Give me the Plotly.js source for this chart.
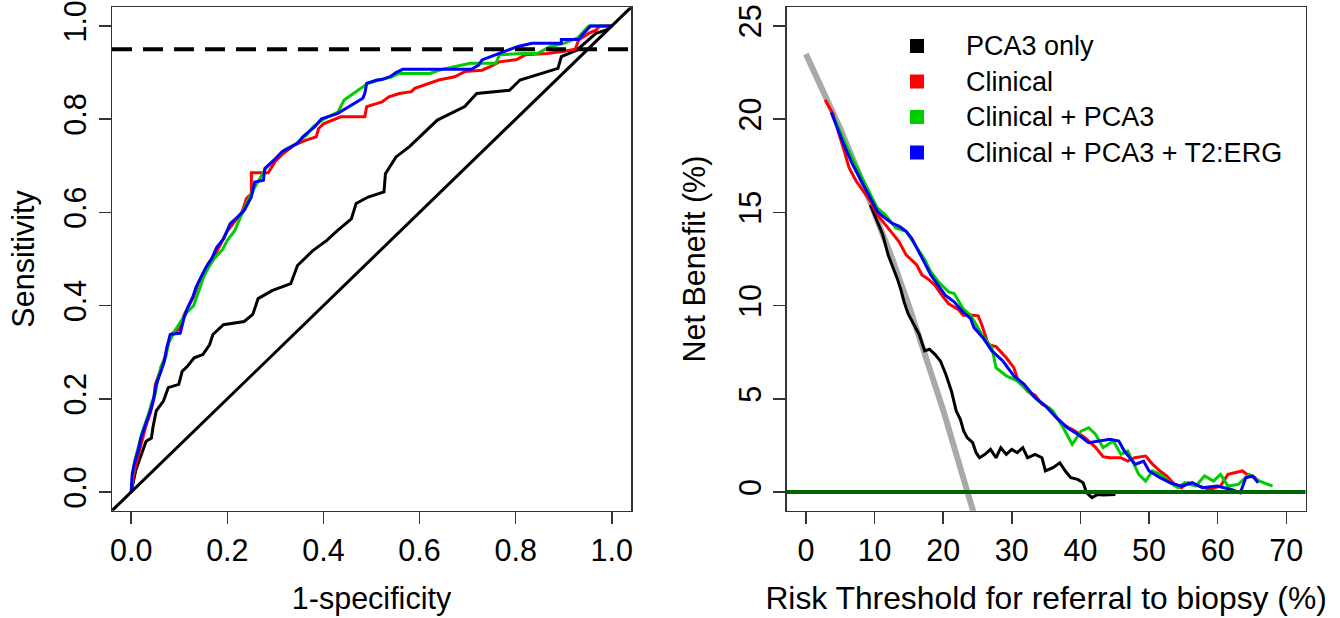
<!DOCTYPE html>
<html><head><meta charset="utf-8">
<script src="https://cdn.plot.ly/plotly-3.0.1.min.js"></script>
<style>html,body{margin:0;padding:0;background:#fff;}#chart{width:1340px;height:618px;}</style>
</head><body><div id="chart"></div>
<script>
// ---------- ROC data (1-specificity, sensitivity) ----------
var rocFprPCA3 = [0,0.009,0.016,0.031,0.042,0.045,0.052,0.067,0.077,0.099,0.106,0.117,0.131,0.149,0.163,0.17,0.192,0.235,0.253,0.264,0.293,0.332,0.346,0.378,0.407,0.429,0.458,0.468,0.493,0.526,0.529,0.551,0.579,0.6,0.637,0.694,0.719,0.787,0.809,0.866,0.888,0.895,0.927,0.967,0.988,1];
var rocSensPCA3 = [0,0.045,0.066,0.109,0.116,0.138,0.174,0.195,0.224,0.231,0.259,0.27,0.288,0.295,0.316,0.338,0.359,0.366,0.381,0.415,0.432,0.447,0.486,0.518,0.54,0.561,0.586,0.619,0.633,0.644,0.683,0.719,0.741,0.762,0.798,0.827,0.855,0.862,0.884,0.902,0.909,0.934,0.948,0.984,0.991,1];

var rocFprClin = [0,0.004,0.01,0.018,0.025,0.03,0.04,0.047,0.05,0.06,0.07,0.077,0.085,0.1,0.11,0.12,0.13,0.14,0.15,0.16,0.175,0.19,0.2,0.215,0.23,0.24,0.25,0.25,0.285,0.3,0.315,0.34,0.364,0.385,0.39,0.4,0.436,0.486,0.49,0.522,0.536,0.558,0.583,0.59,0.622,0.64,0.673,0.694,0.73,0.748,0.766,0.802,0.82,0.866,0.898,0.924,0.931,0.952,0.967,0.975,1];
var rocSensClin = [0,0.03,0.06,0.09,0.12,0.14,0.17,0.2,0.23,0.26,0.29,0.32,0.34,0.35,0.38,0.40,0.42,0.45,0.47,0.49,0.51,0.54,0.56,0.58,0.6,0.63,0.64,0.685,0.685,0.71,0.725,0.745,0.755,0.762,0.78,0.79,0.805,0.805,0.827,0.837,0.848,0.855,0.859,0.866,0.877,0.884,0.891,0.902,0.905,0.913,0.923,0.928,0.938,0.941,0.945,0.95,0.97,0.984,0.991,1,1];

var rocFprClinPCA3 = [0,0.003,0.008,0.015,0.022,0.03,0.037,0.042,0.05,0.055,0.062,0.072,0.078,0.09,0.1,0.115,0.13,0.14,0.15,0.16,0.172,0.19,0.2,0.215,0.228,0.24,0.255,0.268,0.28,0.3,0.32,0.34,0.364,0.38,0.4,0.43,0.443,0.472,0.493,0.52,0.54,0.558,0.622,0.64,0.705,0.759,0.766,0.816,0.845,0.87,0.902,0.93,0.952,1];
var rocSensClinPCA3 = [0,0.04,0.07,0.1,0.125,0.15,0.17,0.19,0.21,0.24,0.27,0.29,0.32,0.345,0.36,0.385,0.40,0.43,0.46,0.48,0.50,0.52,0.54,0.56,0.59,0.62,0.65,0.675,0.695,0.715,0.735,0.745,0.765,0.785,0.80,0.815,0.841,0.862,0.877,0.885,0.89,0.898,0.898,0.905,0.92,0.92,0.938,0.941,0.941,0.955,0.963,0.975,1,1];

var rocFprFull = [0,0.002,0.006,0.016,0.02,0.027,0.034,0.042,0.047,0.052,0.062,0.069,0.074,0.081,0.102,0.11,0.118,0.128,0.135,0.145,0.156,0.167,0.178,0.192,0.206,0.221,0.235,0.25,0.257,0.275,0.278,0.3,0.314,0.346,0.357,0.382,0.396,0.429,0.447,0.465,0.482,0.486,0.49,0.511,0.522,0.54,0.551,0.565,0.708,0.723,0.73,0.748,0.766,0.784,0.805,0.834,0.895,0.895,0.931,0.938,0.945,0.956,1];
var rocSensFull = [0,0.038,0.059,0.095,0.116,0.138,0.159,0.181,0.202,0.231,0.259,0.281,0.309,0.338,0.341,0.374,0.397,0.418,0.44,0.461,0.483,0.50,0.525,0.543,0.576,0.59,0.604,0.633,0.665,0.669,0.694,0.715,0.73,0.748,0.762,0.784,0.801,0.812,0.823,0.834,0.845,0.855,0.877,0.884,0.885,0.892,0.90,0.907,0.907,0.916,0.927,0.934,0.941,0.948,0.956,0.963,0.963,0.971,0.971,0.98,0.988,1,1];

var rocTicks = [0,0.2,0.4,0.6,0.8,1.0];
var rocTickText = ['0.0','0.2','0.4','0.6','0.8','1.0'];
var sensitivityTarget = 0.95;

// ---------- Decision curve data (threshold %, net benefit %) ----------
var nbThrAll = [0,2.5,5,7.5,10,12.5,15,17.5,20,22.5,24.6];
var nbAll    = [23.5,21.5,19.5,17.3,15.0,12.6,10.0,7.3,4.4,1.3,-1.3];

var nbThrPCA3 = [9.4,10.4,11.2,12.0,12.8,13.3,13.8,14.3,14.9,15.7,16.5,17.3,18.0,18.8,19.6,20.4,21.2,21.9,22.5,23.0,23.5,24.3,24.8,25.3,26.1,26.9,27.7,28.4,29.2,30.0,30.8,31.6,32.3,33.4,34.4,34.9,36.0,37.0,37.8,38.6,39.6,40.4,40.9,41.7,42.5,43.3,45.1];
var nbPCA3    = [15.4,14.5,13.8,12.7,12.0,11.46,10.9,10.2,9.55,9.0,8.46,7.57,7.66,7.39,7.03,6.31,5.42,4.35,3.9,3.27,2.92,2.65,2.11,1.84,2.02,2.29,1.84,2.38,2.02,2.29,2.11,2.38,1.84,2.02,1.84,1.13,1.31,1.57,1.13,0.77,0.68,0.5,-0.04,-0.3,-0.13,-0.16,-0.13];

var nbThrClin = [2.8,3.95,5.66,6.29,7.33,8.37,9.4,10.4,12.0,13.56,14.6,16.16,16.9,17.7,18.8,19.8,20.8,22.2,22.9,24.0,25.1,25.6,26.6,27.7,29.2,30.3,30.8,32.3,33.4,34.4,35.5,36.5,37.5,39.1,40.7,42.2,43.3,44.3,45.9,46.9,47.9,49.5,50.5,51.6,52.6,53.7,54.7,55.7,57.3,58.9,60.4,61.5,63.6,64.6,65.6];
var nbClin    = [21.04,20.27,18.2,17.4,16.67,16.13,15.6,14.88,14.16,13.44,12.72,12.18,11.64,11.46,11.1,10.56,10.1,9.8,9.48,9.5,9.45,9.0,7.9,7.8,7.2,6.67,6.1,5.4,5.2,4.7,4.5,4.0,3.6,3.3,2.9,2.4,1.9,1.84,1.84,1.66,1.84,1.93,1.5,1.13,0.86,0.41,0.23,0.5,0.32,0.14,0.32,0.95,1.13,0.86,0.77];

var nbThrClinPCA3 = [4.2,5.8,7.3,8.9,10.4,11.5,13.1,14.6,15.6,17.2,18.2,19.3,20.8,21.6,22.9,24.0,24.5,25.6,27.1,27.7,29.2,30.8,32.3,33.9,36.0,37.5,38.8,40.1,41.2,42.2,43.3,44.8,45.9,46.9,48.5,49.5,50.5,51.6,53.1,54.2,55.2,56.8,58.1,59.4,60.4,61.5,63.0,64.6,66.1,68.0];
var nbClinPCA3    = [20.0,18.65,17.5,16.3,15.24,14.9,14.16,13.98,13.44,12.54,11.82,11.28,10.74,10.65,9.84,9.48,9.18,8.46,7.75,6.67,6.23,5.96,5.42,4.88,4.35,3.45,2.56,3.27,3.45,3.1,2.38,2.74,2.02,2.2,0.95,0.59,1.13,0.95,0.5,0.23,0.5,0.32,0.86,0.59,0.95,0.32,0.41,0.95,0.59,0.32];

var nbThrFull = [3.7,4.5,5.5,6.8,8.1,9.4,10.4,11.2,12.5,13.6,14.6,15.4,16.2,17.2,18.2,19.3,20.3,21.6,22.9,24.0,24.5,25.8,27.1,28.7,30.3,31.8,33.4,34.9,36.5,38.1,39.6,41.2,42.7,44.3,45.6,46.4,48.0,49.2,50.0,51.6,53.1,54.7,56.3,57.8,59.9,62.0,63.3,64.1,65.1,65.9];
var nbFull    = [20.36,19.55,18.65,17.57,16.67,15.77,15.06,14.79,14.43,14.25,13.98,13.62,13.08,12.36,11.64,11.1,10.56,10.2,9.66,9.3,8.82,8.28,7.57,7.03,6.23,5.78,5.06,4.62,3.99,3.45,3.1,2.65,2.74,2.83,2.74,2.2,1.48,1.66,1.13,0.77,0.5,0.32,0.5,0.23,0.32,0.14,-0.04,0.77,0.86,0.5];

var nbTicksX = [0,10,20,30,40,50,60,70];
var nbTicksY = [0,5,10,15,20,25];

var legendLabels = ['PCA3 only','Clinical','Clinical + PCA3','Clinical + PCA3 + T2:ERG'];
var seriesColors = ['#000000','#FF0000','#00CD00','#0000FF'];

// ---------- traces ----------
function rocTrace(x,y,c,n){return {x:x,y:y,type:'scatter',mode:'lines',name:n,line:{color:c,width:3},xaxis:'x',yaxis:'y',showlegend:false,hoverinfo:'x+y'};}
function nbTrace(x,y,c,n,w){return {x:x,y:y,type:'scatter',mode:'lines',name:n,line:{color:c,width:w||3},xaxis:'x2',yaxis:'y2',showlegend:false,hoverinfo:'x+y'};}

var data = [
  rocTrace(rocFprPCA3,rocSensPCA3,seriesColors[0],legendLabels[0]),
  rocTrace(rocFprClin,rocSensClin,seriesColors[1],legendLabels[1]),
  rocTrace(rocFprClinPCA3,rocSensClinPCA3,seriesColors[2],legendLabels[2]),
  rocTrace(rocFprFull,rocSensFull,seriesColors[3],legendLabels[3]),
  nbTrace(nbThrAll,nbAll,'#A9A9A9','Treat all',6),
  nbTrace(nbThrPCA3,nbPCA3,seriesColors[0],legendLabels[0]),
  nbTrace(nbThrClin,nbClin,seriesColors[1],legendLabels[1]),
  nbTrace(nbThrClinPCA3,nbClinPCA3,seriesColors[2],legendLabels[2]),
  nbTrace(nbThrFull,nbFull,seriesColors[3],legendLabels[3])
];

var FONT = 'Liberation Sans, Arial, Helvetica, sans-serif';
var W = 1340, H = 618;
var yDom = [(H-510.7)/H, (H-7.3)/H];

function axisBase(extra){
  var a = {showgrid:false, zeroline:false, showline:true, mirror:true, linecolor:'#333', linewidth:1.5,
    ticks:'outside', ticklen:12, tickwidth:1.5, tickcolor:'#333', tickfont:{family:FONT,size:30.5,color:'#000'}, fixedrange:true};
  for (var k in extra) a[k] = extra[k];
  return a;
}

var shapes = [
  {type:'line', xref:'x', yref:'y', x0:-0.04, y0:-0.04, x1:1.04, y1:1.04, line:{color:'#000',width:3}, layer:'above'},
  {type:'line', xref:'x domain', yref:'y', x0:0, x1:1, y0:sensitivityTarget, y1:sensitivityTarget, line:{color:'#000',width:4,dash:'20px,11px'}, layer:'above'},
  {type:'line', xref:'x2 domain', yref:'y2', x0:0, x1:1, y0:0, y1:0, line:{color:'#006400',width:4}, layer:'above'}
];
var annotations = [];
var legRows = [46,81.5,117,152.5];
for (var i=0;i<legendLabels.length;i++){
  shapes.push({type:'rect', xref:'paper', yref:'paper', x0:910/W, x1:924/W, y0:1-(legRows[i]+7)/H, y1:1-(legRows[i]-7)/H, fillcolor:seriesColors[i], line:{width:0}});
  annotations.push({xref:'paper', yref:'paper', x:964/W, y:1-legRows[i]/H, xanchor:'left', yanchor:'middle', text:legendLabels[i], showarrow:false, font:{family:FONT,size:27,color:'#000'}});
}

var layout = {
  width:W, height:H, margin:{l:0,r:0,t:0,b:0}, paper_bgcolor:'#fff', plot_bgcolor:'#fff',
  font:{family:FONT,size:30,color:'#000'}, showlegend:false,
  xaxis: axisBase({domain:[112/W,631/W], range:[-0.04,1.04], tickvals:rocTicks, ticktext:rocTickText, anchor:'y',
    title:{text:'1-specificity', font:{family:FONT,size:30.5,color:'#000'}, standoff:22}}),
  yaxis: axisBase({domain:yDom, range:[-0.04,1.04], tickvals:rocTicks, ticktext:rocTickText, tickangle:-90, anchor:'x',
    title:{text:'Sensitivity', font:{family:FONT,size:30.5,color:'#000'}, standoff:14}}),
  xaxis2: axisBase({domain:[786.7/W,1305.5/W], range:[-2.8,72.8], tickvals:nbTicksX, anchor:'y2',
    title:{text:'Risk Threshold for referral to biopsy (%)', font:{family:FONT,size:31.8,color:'#000'}, standoff:21}}),
  yaxis2: axisBase({domain:yDom, range:[-1,26], tickvals:nbTicksY, tickangle:-90, anchor:'x2',
    title:{text:'Net Benefit (%)', font:{family:FONT,size:30.5,color:'#000'}, standoff:18}}),
  shapes:shapes, annotations:annotations
};

Plotly.newPlot('chart', data, layout, {displayModeBar:false, staticPlot:true});
</script></body></html>
